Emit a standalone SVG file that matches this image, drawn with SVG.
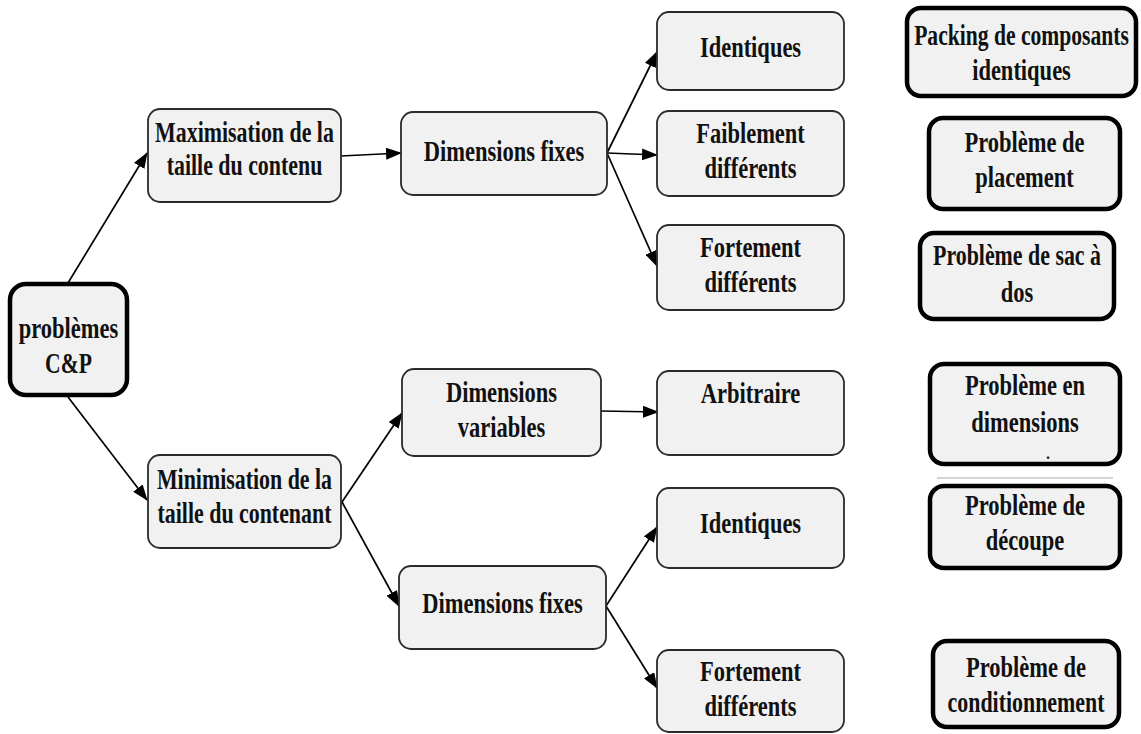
<svg xmlns="http://www.w3.org/2000/svg" width="1141" height="734" viewBox="0 0 1141 734">
  <style>
    .box { fill: #f1f1f1; stroke: #2b2b2b; stroke-width: 1.8; }
    .bold-box { fill: #f1f1f1; stroke: #000; stroke-width: 4.5; }
    .lbl { font-family: "Liberation Serif", "Times New Roman", serif; font-weight: bold; font-size: 30px; fill: #111; text-anchor: middle; }
    .edge { stroke: #000; stroke-width: 1.7; fill: none; marker-end: url(#arrow); }
  </style>
  <defs>
    <marker id="arrow" viewBox="0 0 16 12" refX="15" refY="6" markerWidth="16" markerHeight="12" markerUnits="userSpaceOnUse" orient="auto">
      <path d="M0,0 L16,6 L0,12 Z" fill="#000"/>
    </marker>
  </defs>

  <rect width="1141" height="734" fill="#fff"/>

  <!-- connectors -->
  <g id="connectors">
    <line class="edge" x1="68" y1="283" x2="147" y2="153"/>
    <line class="edge" x1="68" y1="397" x2="147" y2="500"/>
    <line class="edge" x1="341" y1="156" x2="401" y2="153"/>
    <line class="edge" x1="607" y1="153" x2="657" y2="52"/>
    <line class="edge" x1="607" y1="153" x2="657" y2="155"/>
    <line class="edge" x1="607" y1="153" x2="657" y2="266"/>
    <line class="edge" x1="342" y1="502" x2="402" y2="413"/>
    <line class="edge" x1="342" y1="502" x2="399" y2="606"/>
    <line class="edge" x1="601" y1="411" x2="658" y2="412"/>
    <line class="edge" x1="606" y1="606" x2="657" y2="527"/>
    <line class="edge" x1="606" y1="606" x2="657" y2="688"/>
  </g>

  <!-- root -->
  <g id="n-root">
    <rect class="bold-box" x="10" y="284" width="117" height="111" rx="16"/>
    <text class="lbl" transform="translate(68.5 338) scale(0.75 1)">problèmes</text>
    <text class="lbl" transform="translate(68.5 373) scale(0.72 1)">C&amp;P</text>
  </g>

  <!-- level 1 -->
  <g id="n-max">
    <rect class="box" x="148" y="109" width="193" height="93" rx="12"/>
    <text class="lbl" transform="translate(244.5 142) scale(0.73 1)">Maximisation de la</text>
    <text class="lbl" transform="translate(244.5 175) scale(0.73 1)">taille du contenu</text>
  </g>
  <g id="n-min">
    <rect class="box" x="148" y="455" width="193" height="93" rx="12"/>
    <text class="lbl" transform="translate(244.5 489) scale(0.73 1)">Minimisation de la</text>
    <text class="lbl" transform="translate(244.5 523) scale(0.73 1)">taille du contenant</text>
  </g>

  <!-- level 2 -->
  <g id="n-fix1">
    <rect class="box" x="401" y="112" width="206" height="83" rx="12"/>
    <text class="lbl" transform="translate(504 161) scale(0.75 1)">Dimensions fixes</text>
  </g>
  <g id="n-var">
    <rect class="box" x="402" y="369" width="199" height="87" rx="12"/>
    <text class="lbl" transform="translate(501.5 402) scale(0.75 1)">Dimensions</text>
    <text class="lbl" transform="translate(501.5 437) scale(0.75 1)">variables</text>
  </g>
  <g id="n-fix2">
    <rect class="box" x="399" y="566" width="207" height="83" rx="12"/>
    <text class="lbl" transform="translate(502.5 613) scale(0.75 1)">Dimensions fixes</text>
  </g>

  <!-- level 3 -->
  <g id="n-ident1">
    <rect class="box" x="657" y="12" width="187" height="78" rx="12"/>
    <text class="lbl" transform="translate(750.5 57) scale(0.75 1)">Identiques</text>
  </g>
  <g id="n-faible">
    <rect class="box" x="657" y="111" width="187" height="85" rx="12"/>
    <text class="lbl" transform="translate(750.5 143) scale(0.75 1)">Faiblement</text>
    <text class="lbl" transform="translate(750.5 178) scale(0.75 1)">différents</text>
  </g>
  <g id="n-fort1">
    <rect class="box" x="657" y="225" width="187" height="85" rx="12"/>
    <text class="lbl" transform="translate(750.5 257) scale(0.75 1)">Fortement</text>
    <text class="lbl" transform="translate(750.5 292) scale(0.75 1)">différents</text>
  </g>
  <g id="n-arb">
    <rect class="box" x="657" y="371" width="187" height="84" rx="12"/>
    <text class="lbl" transform="translate(750.5 403) scale(0.75 1)">Arbitraire</text>
  </g>
  <g id="n-ident2">
    <rect class="box" x="657" y="488" width="187" height="80" rx="12"/>
    <text class="lbl" transform="translate(750.5 533) scale(0.75 1)">Identiques</text>
  </g>
  <g id="n-fort2">
    <rect class="box" x="657" y="650" width="187" height="82" rx="12"/>
    <text class="lbl" transform="translate(750.5 681) scale(0.75 1)">Fortement</text>
    <text class="lbl" transform="translate(750.5 716) scale(0.75 1)">différents</text>
  </g>

  <!-- problem classes -->
  <g id="n-packing">
    <rect class="bold-box" x="907" y="8" width="229" height="88" rx="14"/>
    <text class="lbl" transform="translate(1021.5 45) scale(0.72 1)">Packing de composants</text>
    <text class="lbl" transform="translate(1021.5 80) scale(0.75 1)">identiques</text>
  </g>
  <g id="n-placement">
    <rect class="bold-box" x="929" y="118" width="191" height="91" rx="14"/>
    <text class="lbl" transform="translate(1024.5 152) scale(0.75 1)">Problème de</text>
    <text class="lbl" transform="translate(1024.5 187) scale(0.75 1)">placement</text>
  </g>
  <g id="n-sac">
    <rect class="bold-box" x="920" y="233" width="194" height="86" rx="14"/>
    <text class="lbl" transform="translate(1017 265) scale(0.73 1)">Problème de sac à</text>
    <text class="lbl" transform="translate(1017 302) scale(0.75 1)">dos</text>
  </g>
  <g id="n-dim">
    <rect class="bold-box" x="930" y="364" width="190" height="100" rx="14"/>
    <text class="lbl" transform="translate(1025 395) scale(0.75 1)">Problème en</text>
    <text class="lbl" transform="translate(1025 432) scale(0.75 1)">dimensions</text>
    <text class="lbl" style="font-size:16px" x="1048" y="459">.</text>
  </g>
  <line x1="937" y1="478" x2="1113" y2="478" stroke="#aaa" stroke-width="1"/>
  <g id="n-decoupe">
    <rect class="bold-box" x="930" y="486" width="190" height="82" rx="14"/>
    <text class="lbl" transform="translate(1025 515) scale(0.75 1)">Problème de</text>
    <text class="lbl" transform="translate(1025 550) scale(0.75 1)">découpe</text>
  </g>
  <g id="n-cond">
    <rect class="bold-box" x="933" y="641" width="186" height="86" rx="14"/>
    <text class="lbl" transform="translate(1026 677) scale(0.75 1)">Problème de</text>
    <text class="lbl" transform="translate(1026 712) scale(0.73 1)">conditionnement</text>
  </g>
</svg>
